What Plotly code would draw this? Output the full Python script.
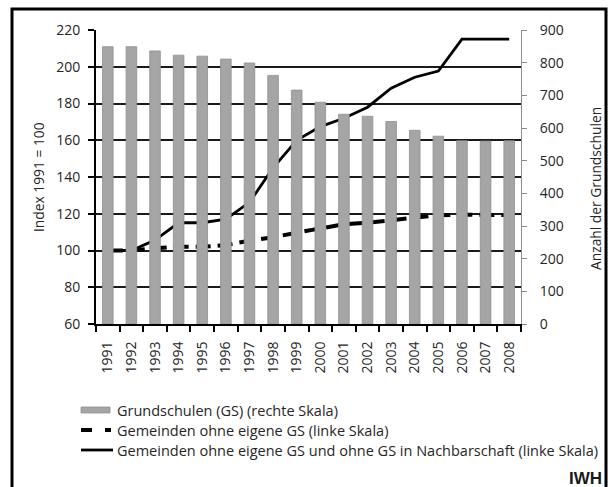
import plotly.graph_objects as go

years = [str(y) for y in range(1991, 2009)]
grundschulen = [849, 849, 836, 823, 820, 811, 799, 761, 716, 679, 642, 636, 620, 593, 575, 561, 560, 561]
ohne_gs = [100, 100, 101.2, 102, 102, 103, 105.3, 107.2, 109.7, 112, 114.3, 115.1, 116.6, 118.1, 119.2, 119.5, 119.5, 119.3]
ohne_gs_nachbar = [100, 100, 105.7, 115.1, 115.1, 117.1, 126.2, 145, 160, 167.4, 172, 178, 188.3, 194.3, 197.7, 215, 215, 215]

left_ticks = list(range(60, 221, 20))
right_ticks = list(range(0, 901, 100))

legend_labels = [
    "Grundschulen (GS) (rechte Skala)",
    "Gemeinden ohne eigene GS (linke Skala)",
    "Gemeinden ohne eigene GS und ohne GS in Nachbarschaft (linke Skala)",
]

FONT = "Open Sans"
TXT = "#262626"
BAR_COL = "#a5a5a5"

W, H = 611, 487
L, R, T, B = 96, 90, 30, 163
PW, PH = W - L - R, H - T - B


def px(x):
    return (x - L) / PW


def py(y):
    return (T + PH - y) / PH


fig = go.Figure()
fig.add_trace(go.Bar(x=years, y=grundschulen, yaxis="y2", name=legend_labels[0],
                     marker=dict(color=BAR_COL, line=dict(color="#8f8f8f", width=0.8)),
                     width=0.45, showlegend=False))
fig.add_trace(go.Scatter(x=years, y=ohne_gs, mode="lines", name=legend_labels[1],
                         line=dict(color="black", width=4, dash="15px,7px"), showlegend=False))
fig.add_trace(go.Scatter(x=years, y=ohne_gs_nachbar, mode="lines", name=legend_labels[2],
                         line=dict(color="black", width=2.8), showlegend=False))

shapes = []
# outer border
bl, br, bt, bb = 12, 606, 9, 495
shapes.append(dict(type="rect", xref="paper", yref="paper",
                   x0=px(bl), x1=px(br), y0=py(bb), y1=py(bt),
                   line=dict(color="black", width=3), fillcolor="rgba(255,255,255,0)",
                   layer="below"))
# legend symbols
shapes.append(dict(type="rect", xref="paper", yref="paper",
                   x0=px(81), x1=px(110), y0=py(413), y1=py(407),
                   line=dict(color="#8f8f8f", width=0.8), fillcolor=BAR_COL))
shapes.append(dict(type="line", xref="paper", yref="paper",
                   x0=px(81), x1=px(111), y0=py(430), y1=py(430),
                   line=dict(color="black", width=4, dash="11px,13px")))
shapes.append(dict(type="line", xref="paper", yref="paper",
                   x0=px(81), x1=px(113), y0=py(450), y1=py(450),
                   line=dict(color="black", width=2.8)))

annotations = []
# top edge of the frame, drawn as an empty bordered annotation box
annotations.append(dict(text="", xref="paper", yref="paper", x=px(bl - 1.5), y=py(bt - 1.5),
                        xanchor="left", yanchor="top", showarrow=False,
                        width=br - bl - 3, height=2, bgcolor="black",
                        borderwidth=0, borderpad=0))
for lab, yy in zip(legend_labels, [410, 430, 450]):
    annotations.append(dict(text=lab, xref="paper", yref="paper", x=px(115), y=py(yy),
                            xanchor="left", yanchor="middle", showarrow=False,
                            font=dict(family=FONT, size=14.5, color=TXT)))
annotations.append(dict(text="Index 1991 = 100", xref="paper", yref="paper", x=px(38), y=py(177),
                        xanchor="center", yanchor="middle", textangle=-90, showarrow=False,
                        font=dict(family=FONT, size=13.8, color=TXT)))
annotations.append(dict(text="Anzahl der Grundschulen", xref="paper", yref="paper", x=px(595), y=py(189),
                        xanchor="center", yanchor="middle", textangle=-90, showarrow=False,
                        font=dict(family=FONT, size=13.8, color=TXT)))
annotations.append(dict(text="<b>IWH</b>", xref="paper", yref="paper", x=px(604), y=py(478),
                        xanchor="right", yanchor="middle", showarrow=False,
                        font=dict(family="Liberation Sans", size=17, color="#1a1a1a")))

fig.update_layout(
    width=W, height=H,
    margin=dict(l=L, r=R, t=T, b=B, pad=0),
    paper_bgcolor="white", plot_bgcolor="white",
    font=dict(family=FONT, size=14, color=TXT),
    bargap=0.55,
    showlegend=False,
    xaxis=dict(type="category", tickangle=-90, ticks="outside", ticklen=6, tickwidth=1.5,
               tickcolor="black", tickson="boundaries", showline=True, linecolor="black",
               linewidth=2, showgrid=False, ticklabelstandoff=10,
               tickfont=dict(family=FONT, size=14, color=TXT)),
    yaxis=dict(range=[60, 220], tickvals=left_ticks, ticks="outside", ticklen=6, tickwidth=1.5,
               tickcolor="black", showline=True, linecolor="black", linewidth=2,
               showgrid=True, gridcolor="#1a1a1a", gridwidth=1.5, zeroline=False,
               ticklabelstandoff=5, tickfont=dict(family=FONT, size=14, color=TXT)),
    yaxis2=dict(range=[0, 900], tickvals=right_ticks, overlaying="y", side="right",
                ticks="outside", ticklen=5, tickcolor="#8a8a8a", showline=True,
                linecolor="#8a8a8a", linewidth=1, showgrid=False, zeroline=False,
                ticklabelstandoff=10, tickfont=dict(family=FONT, size=14, color=TXT)),
    shapes=shapes,
    annotations=annotations,
)

fig.write_html("out.html", config={"displayModeBar": False},
               post_script="document.body.style.margin='0';document.body.style.overflow='hidden';")
